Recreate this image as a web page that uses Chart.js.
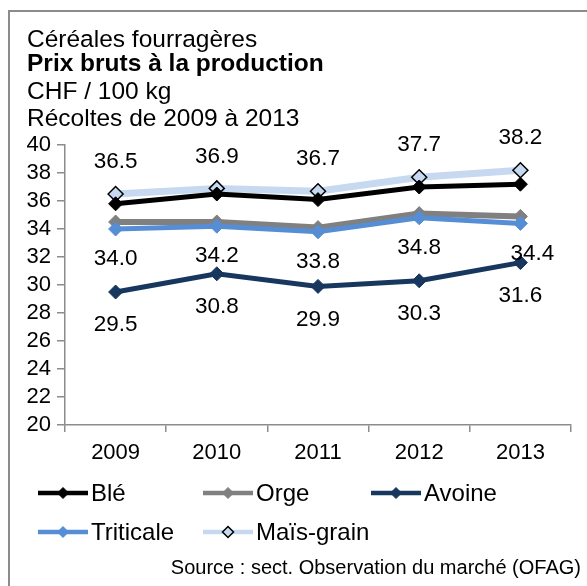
<!DOCTYPE html>
<html>
<head>
<meta charset="utf-8">
<script src="https://cdn.jsdelivr.net/npm/chart.js@4.4.1/dist/chart.umd.min.js"></script>
<style>
  html, body { margin: 0; padding: 0; background: #fff; }
  #wrap { position: relative; width: 587px; height: 586px; }
</style>
</head>
<body>
<div id="wrap"><canvas id="c" width="587" height="586"></canvas></div>
<script>
const years = ['2009', '2010', '2011', '2012', '2013'];
const ble = [35.8, 36.5, 36.1, 37.0, 37.2];
const orge = [34.5, 34.5, 34.1, 35.1, 34.9];
const avoine = [29.5, 30.8, 29.9, 30.3, 31.6];
const triticale = [34.0, 34.2, 33.8, 34.8, 34.4];
const maisGrain = [36.5, 36.9, 36.7, 37.7, 38.2];
const yTicks = [20, 22, 24, 26, 28, 30, 32, 34, 36, 38, 40];
const titleLines = ['Céréales fourragères', 'Prix bruts à la production', 'CHF / 100 kg', 'Récoltes de 2009 à 2013'];
const sourceText = 'Source : sect. Observation du marché (OFAG)';

const FONT = '"Liberation Sans", Arial, sans-serif';

const datasets = [
  { label: 'Blé', data: ble, borderColor: '#000000', backgroundColor: '#000000', borderWidth: 5,
    pointStyle: 'rectRot', pointRadius: 7, pointBorderWidth: 1, pointBorderColor: '#000000', pointBackgroundColor: '#000000', order: 1 },
  { label: 'Orge', data: orge, borderColor: '#808080', backgroundColor: '#808080', borderWidth: 6,
    pointStyle: 'rectRot', pointRadius: 7, pointBorderWidth: 1, pointBorderColor: '#808080', pointBackgroundColor: '#808080', order: 3 },
  { label: 'Avoine', data: avoine, borderColor: '#17375E', backgroundColor: '#17375E', borderWidth: 5,
    pointStyle: 'rectRot', pointRadius: 7, pointBorderWidth: 1, pointBorderColor: '#17375E', pointBackgroundColor: '#17375E',
    order: 1, labelPos: 'below', labelOff: 33 },
  { label: 'Triticale', data: triticale, borderColor: '#558ED5', backgroundColor: '#558ED5', borderWidth: 5,
    pointStyle: 'rectRot', pointRadius: 7, pointBorderWidth: 1, pointBorderColor: '#558ED5', pointBackgroundColor: '#558ED5',
    order: 2, labelPos: 'below', labelOff: 30, lastLabelShift: 12 },
  { label: 'Maïs-grain', data: maisGrain, borderColor: '#C6D9F1', backgroundColor: '#C6D9F1', borderWidth: 7,
    pointStyle: 'rectRot', pointRadius: 7.5, pointBorderWidth: 1.5, pointBorderColor: '#000000', pointBackgroundColor: '#C6D9F1',
    order: 4, labelPos: 'above', labelOff: 32 }
];

const decorPlugin = {
  id: 'decor',
  beforeDraw(chart) {
    const ctx = chart.ctx;
    ctx.save();
    ctx.fillStyle = '#ffffff';
    ctx.fillRect(0, 0, chart.width, chart.height);
    ctx.strokeStyle = '#8c8c8c';
    ctx.lineWidth = 2;
    ctx.strokeRect(9, 11, 700, 700);
    ctx.restore();
  },
  afterDatasetsDraw(chart) {
    const ctx = chart.ctx;
    ctx.save();
    ctx.fillStyle = '#000';
    ctx.font = '22.5px ' + FONT;
    ctx.textAlign = 'center';
    ctx.textBaseline = 'middle';
    chart.data.datasets.forEach((ds, i) => {
      if (!ds.labelPos) return;
      const meta = chart.getDatasetMeta(i);
      meta.data.forEach((pt, j) => {
        const dy = ds.labelPos === 'above' ? -ds.labelOff : ds.labelOff;
        const dx = (ds.lastLabelShift && j === meta.data.length - 1) ? ds.lastLabelShift : 0;
        ctx.fillText(ds.data[j].toFixed(1), pt.x + dx, pt.y + dy);
      });
    });
    ctx.restore();
  },
  afterDraw(chart) {
    const ctx = chart.ctx;
    ctx.save();
    ctx.fillStyle = '#000';
    ctx.textAlign = 'left';
    ctx.textBaseline = 'alphabetic';
    const baselines = [47, 71, 99, 126];
    titleLines.forEach((t, i) => {
      ctx.font = (i === 1 ? 'bold ' : '') + '24.5px ' + FONT;
      ctx.fillText(t, 27, baselines[i]);
    });
    // legend
    const cols = [38, 203, 371];
    const rows = [493, 532];
    chart.data.datasets.forEach((ds, i) => {
      const x = cols[i % 3];
      const y = rows[Math.floor(i / 3)];
      ctx.strokeStyle = ds.borderColor;
      ctx.lineWidth = 4.5;
      ctx.beginPath();
      ctx.moveTo(x, y);
      ctx.lineTo(x + 50, y);
      ctx.stroke();
      const cx = x + 25, r = 5.5;
      ctx.beginPath();
      ctx.moveTo(cx, y - r); ctx.lineTo(cx + r, y); ctx.lineTo(cx, y + r); ctx.lineTo(cx - r, y); ctx.closePath();
      ctx.fillStyle = ds.pointBackgroundColor;
      ctx.fill();
      ctx.strokeStyle = ds.pointBorderColor;
      ctx.lineWidth = ds.pointBorderWidth;
      ctx.stroke();
      ctx.fillStyle = '#000';
      ctx.font = '24px ' + FONT;
      ctx.textBaseline = 'middle';
      ctx.fillText(ds.label, x + 53, y + 1);
    });
    ctx.font = '20px ' + FONT;
    ctx.textAlign = 'right';
    ctx.textBaseline = 'middle';
    ctx.fillText(sourceText, 581, 568);
    ctx.restore();
  }
};

new Chart(document.getElementById('c'), {
  type: 'line',
  data: { labels: years, datasets: datasets },
  options: {
    responsive: false,
    animation: false,
    layout: { padding: { left: 0, top: 145, right: 16, bottom: 0 } },
    plugins: { legend: { display: false }, title: { display: false }, tooltip: { enabled: false } },
    scales: {
      x: {
        offset: true,
        grid: { offset: true, drawOnChartArea: false, drawTicks: true, tickLength: 7, color: '#8c8c8c', lineWidth: 1.5 },
        border: { display: true, color: '#8c8c8c', width: 1.5 },
        ticks: { color: '#000', font: { family: FONT, size: 22 }, padding: 8, maxRotation: 0, autoSkip: false },
        afterFit(s) { s.height = 161; }
      },
      y: {
        min: 20, max: 40,
        afterBuildTicks(s) { s.ticks = yTicks.map(v => ({ value: v })); },
        grid: { drawOnChartArea: false, drawTicks: true, tickLength: 8, color: '#8c8c8c', lineWidth: 1.5 },
        border: { display: true, color: '#8c8c8c', width: 1.5 },
        ticks: { color: '#000', font: { family: FONT, size: 22 }, padding: 6, autoSkip: false },
        afterFit(s) { s.width = 65; }
      }
    }
  },
  plugins: [decorPlugin]
});
</script>
</body>
</html>
